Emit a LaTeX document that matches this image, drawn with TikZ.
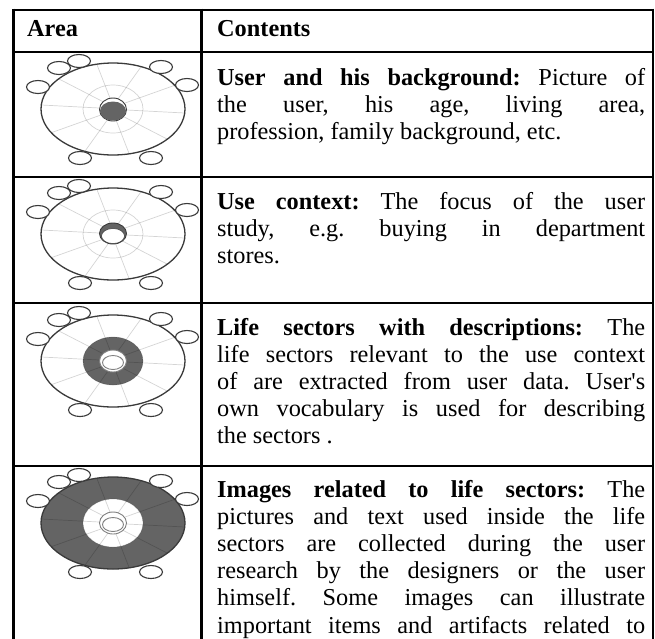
\documentclass[tikz,border=0pt]{standalone}
\usepackage{fontspec}
\setmainfont{Liberation Serif}
\frenchspacing
\definecolor{dk}{HTML}{646464}
\definecolor{ol}{HTML}{3A3A3A}
\newcommand\lsicon[2]{%
\begin{scope}[shift={(113,#1)}]
  \fill[white] (0,0) ellipse [x radius=72pt,y radius=46pt];
  \ifnum#2=4
    \fill[dk] (0,0) ellipse [x radius=72pt,y radius=46pt];
    \fill[white] (0,0) ellipse [x radius=30pt,y radius=24pt];
  \fi
  \ifnum#2=3
    \fill[dk] (0,0) ellipse [x radius=30pt,y radius=24pt];
  \fi
  \foreach \t in {5,41,...,329}
    \draw[spoke] ({13*cos(\t)},{11*sin(\t)}) -- ({72*cos(\t)},{46*sin(\t)});
  \draw[spoke] (0,0) ellipse [x radius=30pt,y radius=24pt];
  \ifnum#2=1
    \fill[white] (0,0.5) ellipse [x radius=13.5pt,y radius=11.5pt];
    \draw[hubline] (0,0.5) ellipse [x radius=13.5pt,y radius=11.5pt];
    \fill[dk] (0,2) ellipse [x radius=13pt,y radius=9.5pt];
  \fi
  \ifnum#2=2
    \fill[dk] (0,-0.5) ellipse [x radius=13.5pt,y radius=10.5pt];
    \draw[hubline] (0,-0.5) ellipse [x radius=13.5pt,y radius=10.5pt];
    \fill[white] (0,2) ellipse [x radius=11.5pt,y radius=7.5pt];
    \draw[hubline,line width=0.5pt] (0,2) ellipse [x radius=11.5pt,y radius=7.5pt];
  \fi
  \ifnum#2>2
    \fill[white] (0,0) ellipse [x radius=13.5pt,y radius=11pt];
    \draw[hubline,draw=gray] (0,0) ellipse [x radius=13.5pt,y radius=11pt];
    \draw[hubline,draw=gray] (0,1.5) ellipse [x radius=10.5pt,y radius=7pt];
  \fi
  \draw[outline] (0,0) ellipse [x radius=72pt,y radius=46pt];
  \foreach \dx/\dy in {-75/-22,-54/-41,-34/-48,48/-42,74/-24,-33/49,38/49}
    \draw[smallring] (\dx,\dy) ellipse [x radius=11.5pt,y radius=6.5pt];
\end{scope}}
\begin{document}
\begin{tikzpicture}[x=1pt,y=-1pt,
  rulel/.style={line width=2.4pt,draw=black},
  spoke/.style={draw=black,draw opacity=0.17,line width=0.7pt},
  outline/.style={draw=ol,line width=1.3pt},
  hubline/.style={draw=ol,line width=0.9pt},
  smallring/.style={draw=ol,line width=1.1pt,fill=white},
  cell/.style={anchor=base west,inner sep=0pt,font=\fontsize{24.3}{27.2}\selectfont},
  head/.style={anchor=base west,inner sep=0pt,font=\fontsize{24.3}{27.2}\selectfont\bfseries}]
\useasboundingbox (0,0) rectangle (655,638);
\clip (0,0) rectangle (655,638);
\fill[white] (0,0) rectangle (655,638);
% icons
\lsicon{109}{1}
\lsicon{234}{2}
\lsicon{361}{3}
\lsicon{523}{4}
% table rules
\coordinate (tl) at (12.3,9.8);
\coordinate (tr) at (654,9.8);
\draw[rulel] (tl) -- (tr);
\coordinate (l0) at (13.5,8.6);  \coordinate (l1) at (13.5,645);
\coordinate (c0) at (201.3,8.6); \coordinate (c1) at (201.3,645);
\coordinate (r0) at (652.8,8.6); \coordinate (r1) at (652.8,645);
\draw[rulel] (l0) -- (l1);
\draw[rulel] (c0) -- (c1);
\draw[rulel] (r0) -- (r1);
\foreach \yy/\nm in {52.2/a,176.7/b,303/c,466/d}{
  \coordinate (h\nm0) at (12.3,\yy);
  \coordinate (h\nm1) at (654,\yy);
  \draw[rulel] (h\nm0) -- (h\nm1);
}
% header
\node[head] (harea) at (27,36) {Area};
\node[head] (hcont) at (217,36) {Contents};
% cells
\node[cell] (t1) at (217,85) {\parbox[t]{428pt}{\hbadness=10000\parindent=0pt
\textbf{User and his background:} Picture of\linebreak
the user, his age, living area,\linebreak
profession, family background, etc.}};
\node[cell] (t2) at (217,209) {\parbox[t]{428pt}{\hbadness=10000\parindent=0pt
\textbf{Use context:} The focus of the user\linebreak
study, e.g. buying in department\linebreak
stores.}};
\node[cell] (t3) at (217,335) {\parbox[t]{428pt}{\hbadness=10000\parindent=0pt
\textbf{Life sectors with descriptions:} The\linebreak
life sectors relevant to the use context\linebreak
of are extracted from user data. User\textquotesingle s\linebreak
own vocabulary is used for describing\linebreak
the sectors .}};
\node[cell] (t4) at (217,497) {\parbox[t]{428pt}{\hbadness=10000\parindent=0pt\parfillskip=0pt
\textbf{Images related to life sectors:} The\linebreak
pictures and text used inside the life\linebreak
sectors are collected during the user\linebreak
research by the designers or the user\linebreak
himself. Some images can illustrate\linebreak
important items and artifacts related to}};
\end{tikzpicture}
\end{document}
